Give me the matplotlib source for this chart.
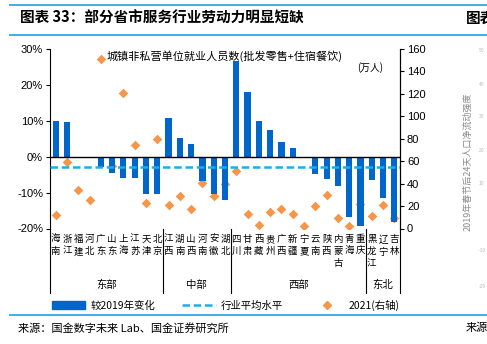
import numpy as np
import matplotlib
matplotlib.use('Agg')
import matplotlib.pyplot as plt
from matplotlib.lines import Line2D
from matplotlib.patches import Patch

plt.rcParams['font.family'] = ['Noto Sans CJK SC', 'DejaVu Sans']

provinces = ['海南', '浙江', '福建', '河北', '广东', '山东', '上海', '江苏', '天津', '北京',
             '江西', '湖南', '山西', '河南', '安徽', '湖北',
             '四川', '甘肃', '西藏', '贵州', '广西', '新疆', '宁夏', '云南', '陕西', '内蒙古', '青海', '重庆',
             '黑龙江', '辽宁', '吉林']
change_vs_2019 = [10.0, 9.8, 0.0, -0.5, -2.8, -4.5, -6.0, -6.0, -10.5, -10.5,
                  10.7, 5.1, 3.5, -6.7, -10.5, -12.0,
                  26.6, 18.0, 10.0, 7.4, 4.0, 2.3, 0.0, -4.8, -6.3, -8.2, -16.9, -19.2,
                  -6.5, -11.6, -18.3]
employed_2021 = [12, 59, 34, 25, 151, 56, 121, 74, 23, 80,
                 21, 29, 17.5, 41, 29, 40,
                 51, 12.5, 3, 14.3, 17.2, 12.8, 2.4, 20, 29.7, 9.8, 2, 21.4,
                 11.3, 20.8, 9.8]
industry_avg = -2.9
groups = ['东部', '中部', '西部', '东北']
group_sizes = [10, 6, 12, 3]

fig = plt.figure(figsize=(4.87, 3.44), dpi=100)
ax = fig.add_axes([50 / 487, 1 - 228.5 / 344, 350 / 487, 179.5 / 344])
ax2 = ax.twinx()

x = np.arange(len(provinces))
bar_c = '#0066CC'
ax.bar(x, change_vs_2019, width=0.55, color=bar_c, zorder=2)
ax.axhline(0, color='black', lw=1, zorder=3)
ax.axhline(industry_avg, color='#1AAFE8', lw=1.8, ls=(0, (3, 1.5)), zorder=4)
ax2.scatter(x, employed_2021, marker='D', s=24, color='#F7954A', zorder=5, linewidths=0)

ax.set_xlim(-0.5, len(provinces) - 0.5)
ax.set_ylim(-20, 30)
ax2.set_ylim(0, 160)
ax.set_yticks([-20, -10, 0, 10, 20, 30])
ax.set_yticklabels(['-20%', '-10%', '0%', '10%', '20%', '30%'], family='Liberation Sans', fontsize=8)
ax2.set_yticks(range(0, 161, 20))
ax2.set_yticklabels([str(v) for v in range(0, 161, 20)], family='Liberation Sans', fontsize=8)
ax.set_xticks([])
for a in (ax, ax2):
    a.spines['top'].set_visible(False)
    a.spines['bottom'].set_visible(False)
    a.tick_params(axis='y', length=3, width=0.8, pad=2)
ax.spines['left'].set_linewidth(0.8)
ax2.spines['right'].set_linewidth(0.8)
ax2.spines['left'].set_visible(False)
ax.set_zorder(ax2.get_zorder() + 1)
ax.patch.set_visible(False)

ax.text(0.5, 0.99, '城镇非私营单位就业人员数(批发零售+住宿餐饮)', transform=ax.transAxes,
        ha='center', va='top', fontsize=8)
ax.text(0.915, 0.93, '(万人)', transform=ax.transAxes, ha='center', va='top', fontsize=7)

# category labels, stacked vertically
tr = ax.get_xaxis_transform()
for i, name in enumerate(provinces):
    ax.text(i, -0.035, '\n'.join(name), transform=tr, ha='center', va='top',
            fontsize=6.8, linespacing=1.45, clip_on=False)

# group separators and names
bounds = np.concatenate([[0], np.cumsum(group_sizes)]) - 0.5
for b in bounds:
    ax.add_line(Line2D([b, b], [0, -0.36], transform=tr, color='black', lw=0.8, clip_on=False))
for g, lo, hi in zip(groups, bounds[:-1], bounds[1:]):
    ax.text((lo + hi) / 2, -0.315, g, transform=tr, ha='center', va='center', fontsize=7.5)

handles = [Patch(color=bar_c),
           Line2D([], [], color='#1AAFE8', lw=1.8, ls=(0, (3, 1.5))),
           Line2D([], [], marker='D', color='#F7954A', ls='none', markersize=4)]
labels = ['较2019年变化', '行业平均水平', '2021(右轴)']
fig.legend(handles, labels, loc='center', bbox_to_anchor=(226 / 487, 1 - 305 / 344), ncol=3,
           frameon=False, fontsize=7.5, handlelength=3.2, handleheight=0.8,
           columnspacing=2.6, handletextpad=0.5)

# report frame
line_c = '#3FAEE6'
for yy in (5, 35, 315):
    fig.add_artist(Line2D([10 / 487, 1], [1 - yy / 344] * 2, transform=fig.transFigure,
                          color=line_c, lw=1.4))
fig.text(20 / 487, 1 - 18 / 344, '图表 33：部分省市服务行业劳动力明显短缺', fontsize=10.5,
         weight='bold', va='center')
fig.text(466 / 487, 1 - 18 / 344, '图表', fontsize=10.5, weight='bold', va='center')
fig.text(18 / 487, 1 - 328 / 344, '来源：国金数字未来 Lab、国金证券研究所', fontsize=8, va='center')
fig.text(466 / 487, 1 - 328 / 344, '来源', fontsize=8, va='center')

# neighbouring chart glimpse
fig.text(468 / 487, 1 - 162 / 344, '2019年春节后24天人口净流动强度', rotation=90, fontsize=6.5,
         color='#8A8A8A', ha='center', va='center')
for lab, yy in zip(['50', '40', '30', '20', '10', '-10', '-20'], [50, 84, 117, 150, 184, 250, 286]):
    fig.text(479 / 487, 1 - yy / 344, lab, fontsize=3.5, color='#BBBBBB', va='center',
             family='Liberation Sans')

fig.savefig('out.png', dpi=100)
